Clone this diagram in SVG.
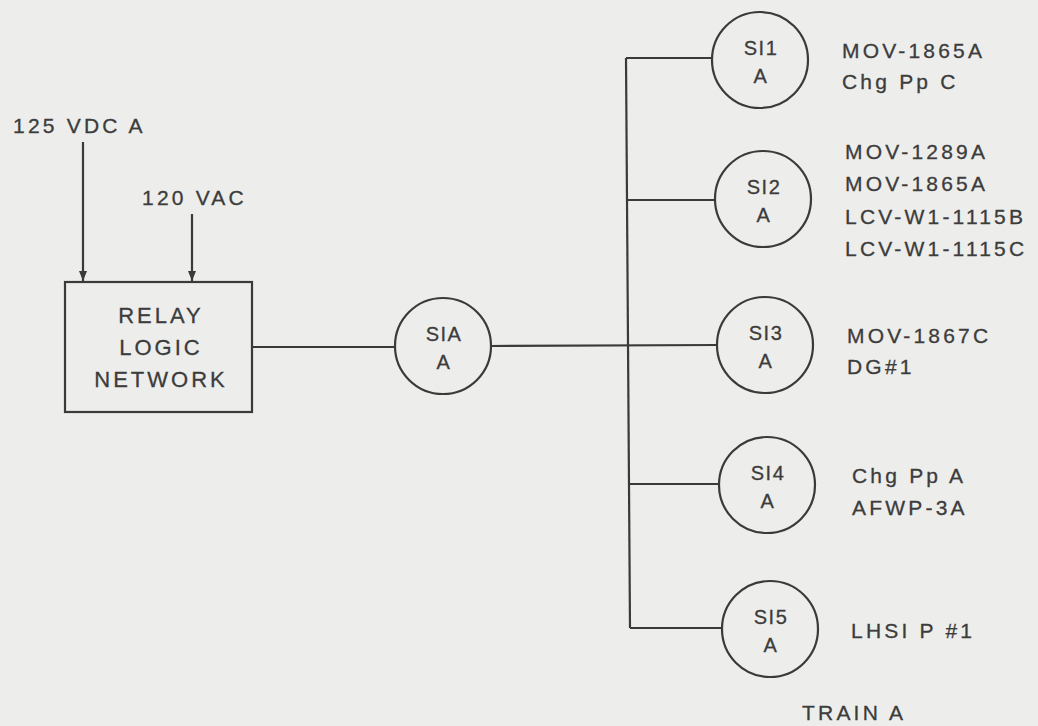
<svg xmlns="http://www.w3.org/2000/svg" width="1038" height="726" viewBox="0 0 1038 726">
<style>
.ln{stroke:#3a3a3a;stroke-width:2.2;fill:none}
.nd{stroke:#3a3a3a;stroke-width:2.2;fill:none}
text{font-family:"Liberation Sans",Arial,sans-serif;fill:#3c3c3c;stroke:#3c3c3c;stroke-width:0.3}
.c{font-size:20px;text-anchor:middle;letter-spacing:1.5px}
.l{font-size:21px;letter-spacing:3.2px}
.b{font-size:22px;text-anchor:middle;letter-spacing:3px}
</style>
<defs>
<marker id="ah" viewBox="0 0 10 10" refX="10" refY="5" markerWidth="10" markerHeight="10" markerUnits="userSpaceOnUse" orient="auto">
<path d="M0,1 L10,5 L0,9 Z" fill="#3a3a3a"/>
</marker>
</defs>
<rect width="1038" height="726" fill="#ededeb"/>
<g id="connectors">
<line class="ln" x1="83" y1="142" x2="83" y2="281" marker-end="url(#ah)"/>
<line class="ln" x1="192" y1="214" x2="192" y2="281" marker-end="url(#ah)"/>
<line class="ln" x1="252" y1="347" x2="395" y2="347"/>
<line class="ln" x1="491" y1="346" x2="717" y2="345"/>
<line class="ln" x1="626" y1="58" x2="630" y2="628"/>
<line class="ln" x1="626" y1="58" x2="712" y2="58"/>
<line class="ln" x1="627" y1="200" x2="715" y2="200"/>
<line class="ln" x1="629" y1="484" x2="719" y2="484"/>
<line class="ln" x1="630" y1="628" x2="722" y2="628"/>
</g>
<g id="source-125vdc"><text class="l" x="13" y="133">125 VDC A</text></g>
<g id="source-120vac"><text class="l" x="142" y="205">120 VAC</text></g>
<g id="relay-logic-network">
<rect class="nd" x="65" y="282" width="187" height="130"/>
<text class="b" x="161" y="323">RELAY</text>
<text class="b" x="161" y="355">LOGIC</text>
<text class="b" x="161" y="387">NETWORK</text>
</g>
<g id="SIA">
<circle class="nd" cx="443" cy="346" r="48"/>
<text class="c" x="444" y="341">SIA</text>
<text class="c" x="444" y="369">A</text>
</g>
<g id="SI1">
<circle class="nd" cx="760" cy="60" r="48"/>
<text class="c" x="761" y="55">SI1</text>
<text class="c" x="761" y="83">A</text>
<text class="l" x="842" y="58">MOV-1865A</text>
<text class="l" x="842" y="89">Chg Pp C</text>
</g>
<g id="SI2">
<circle class="nd" cx="763" cy="199" r="48"/>
<text class="c" x="764" y="194">SI2</text>
<text class="c" x="764" y="222">A</text>
<text class="l" x="845" y="159">MOV-1289A</text>
<text class="l" x="845" y="191">MOV-1865A</text>
<text class="l" x="845" y="224">LCV-W1-1115B</text>
<text class="l" x="845" y="256">LCV-W1-1115C</text>
</g>
<g id="SI3">
<circle class="nd" cx="765" cy="345" r="48"/>
<text class="c" x="766" y="340">SI3</text>
<text class="c" x="766" y="368">A</text>
<text class="l" x="847" y="343">MOV-1867C</text>
<text class="l" x="847" y="374">DG#1</text>
</g>
<g id="SI4">
<circle class="nd" cx="767" cy="485" r="48"/>
<text class="c" x="768" y="480">SI4</text>
<text class="c" x="768" y="508">A</text>
<text class="l" x="852" y="483">Chg Pp A</text>
<text class="l" x="852" y="515">AFWP-3A</text>
</g>
<g id="SI5">
<circle class="nd" cx="770" cy="629" r="48"/>
<text class="c" x="771" y="624">SI5</text>
<text class="c" x="771" y="652">A</text>
<text class="l" x="851" y="638">LHSI P #1</text>
</g>
<g id="train-label"><text class="l" x="802" y="720">TRAIN A</text></g>
</svg>
